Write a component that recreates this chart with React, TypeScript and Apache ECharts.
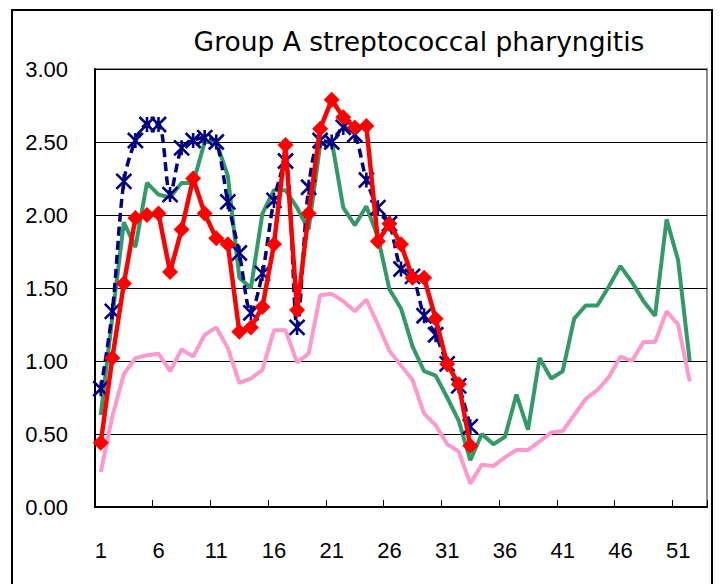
import React, { useEffect, useRef } from "react";
import * as echarts from "echarts";

const weeks: string[] = Array.from({ length: 53 }, (_, i) => String(i + 1));

const blueSeries: (number | null)[] = [
  0.81, 1.34, 2.23, 2.51, 2.62, 2.62, 2.14, 2.46, 2.51, 2.53, 2.5, 2.09, 1.74, 1.33, 1.6, 2.1, 2.37, 1.23,
  2.19, 2.51, 2.5, 2.6, 2.55, 2.24, 2.05, 1.94, 1.63, 1.58, 1.31, 1.18, 0.98, 0.83, 0.55,
];

const redSeries: (number | null)[] = [
  0.44, 1.02, 1.53, 1.98, 2.0, 2.01, 1.61, 1.9, 2.25, 2.01, 1.84, 1.8, 1.2, 1.23, 1.37, 1.8, 2.48, 1.35,
  2.01, 2.59, 2.79, 2.67, 2.6, 2.61, 1.82, 1.94, 1.8, 1.57, 1.57, 1.29, 0.98, 0.84, 0.42,
];

const greenSeries: (number | null)[] = [
  0.63, 1.3, 1.95, 1.78, 2.22, 2.14, 2.12, 2.22, 2.22, 2.5, 2.5, 2.27, 1.57, 1.5, 2.01, 2.17, 2.17, 2.05,
  1.9, 2.48, 2.51, 2.05, 1.93, 2.06, 1.85, 1.49, 1.36, 1.1, 0.93, 0.9, 0.75, 0.59, 0.32, 0.5, 0.43, 0.48,
  0.77, 0.53, 1.02, 0.88, 0.93, 1.29, 1.38, 1.38, 1.51, 1.65, 1.54, 1.41, 1.31, 1.97, 1.69, 1.0,
];

const pinkSeries: (number | null)[] = [
  0.24, 0.62, 0.91, 1.02, 1.04, 1.05, 0.93, 1.08, 1.03, 1.18, 1.23, 1.09, 0.85, 0.88, 0.94, 1.21, 1.21, 0.99,
  1.05, 1.45, 1.46, 1.41, 1.34, 1.42, 1.25, 1.07, 0.97, 0.87, 0.64, 0.56, 0.43, 0.38, 0.16, 0.29, 0.28, 0.34,
  0.39, 0.39, 0.45, 0.51, 0.52, 0.63, 0.74, 0.8, 0.89, 1.03, 1.0, 1.13, 1.13, 1.34, 1.25, 0.86,
];

const titleText = "Group A streptococcal pharyngitis";
const FONT = "Liberation Sans";

export default function App() {
  const ref = useRef<HTMLDivElement>(null);
  useEffect(() => {
    document.body.style.margin = "0";
    if (!ref.current) return;
    const chart = echarts.init(ref.current, null, { renderer: "svg" });
    chart.setOption({
      animation: false,
      backgroundColor: "#ffffff",
      textStyle: { fontFamily: FONT },
      graphic: [
        {
          type: "rect",
          shape: { x: 12, y: 10, width: 700, height: 600 },
          style: { fill: "none", stroke: "#000", lineWidth: 2 },
          z: 0,
        },
        {
          type: "rect",
          shape: { x: 95, y: 69, width: 612, height: 438 },
          style: { fill: "none", stroke: "#8c8c8c", lineWidth: 2 },
          z: 0,
        },
        {
          type: "text",
          x: 419,
          y: 41,
          style: {
            text: titleText,
            fontFamily: "DejaVu Sans",
            fontSize: 26.5,
            fill: "#000",
            textAlign: "center",
            textVerticalAlign: "middle",
          },
        },
      ],
      grid: { left: 95, right: 14, top: 69, bottom: 77, containLabel: false },
      xAxis: {
        type: "category",
        data: weeks,
        boundaryGap: true,
        axisLine: { show: true, lineStyle: { color: "#000", width: 2 } },
        axisTick: { show: true, inside: true, length: 7, interval: 4, lineStyle: { color: "#000", width: 1 } },
        axisLabel: { interval: 4, fontSize: 22, color: "#000", margin: 32, fontFamily: FONT },
        splitLine: { show: false },
      },
      yAxis: {
        type: "value",
        min: 0,
        max: 3,
        interval: 0.5,
        axisLine: { show: true, lineStyle: { color: "#000", width: 2 } },
        axisTick: { show: false },
        axisLabel: {
          fontSize: 22,
          color: "#000",
          margin: 27,
          fontFamily: FONT,
          formatter: (v: number) => v.toFixed(2),
        },
        splitLine: { show: true, lineStyle: { color: "#000", width: 1 } },
      },
      series: [
        {
          name: "pink",
          type: "line",
          data: pinkSeries,
          symbol: "none",
          lineStyle: { color: "#ff99cc", width: 4 },
          itemStyle: { color: "#ff99cc" },
          z: 2,
        },
        {
          name: "green",
          type: "line",
          data: greenSeries,
          symbol: "none",
          lineStyle: { color: "#339966", width: 4 },
          itemStyle: { color: "#339966" },
          z: 3,
        },
        {
          name: "blue",
          type: "line",
          data: blueSeries,
          smooth: 0.3,
          symbol: "path://M0,0L10,10M10,0L0,10M5,0L5,10",
          symbolSize: 15,
          showSymbol: true,
          showAllSymbol: true,
          lineStyle: { color: "#000080", width: 3.5, type: [9, 5] },
          itemStyle: { color: "#000080", borderColor: "#000080", borderWidth: 2.6 },
          z: 4,
        },
        {
          name: "red",
          type: "line",
          data: redSeries,
          symbol: "diamond",
          symbolSize: 16,
          showSymbol: true,
          showAllSymbol: true,
          lineStyle: { color: "#ff0000", width: 4.5 },
          itemStyle: { color: "#ff0000" },
          z: 5,
        },
      ],
    });
    return () => chart.dispose();
  }, []);
  return <div ref={ref} style={{ width: 721, height: 584 }} />;
}
